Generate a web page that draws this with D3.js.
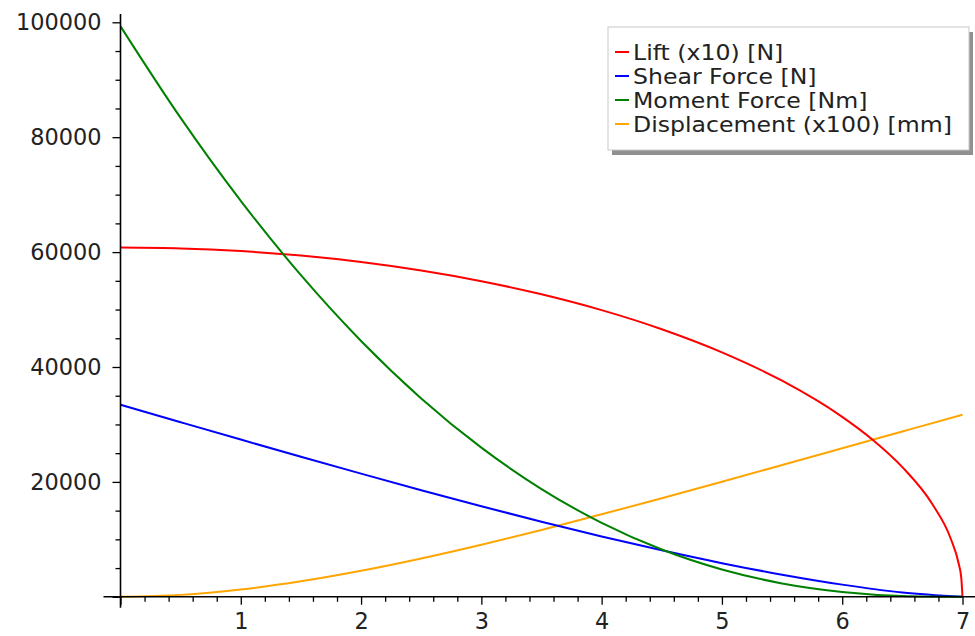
<!DOCTYPE html>
<html>
<head>
<meta charset="utf-8">
<script src="https://cdn.jsdelivr.net/npm/d3@7"></script>
<style>
  html, body { margin: 0; padding: 0; background: #fff; }
  svg { display: block; font-family: "DejaVu Sans", sans-serif; }
</style>
</head>
<body>
<svg id="chart" width="975" height="636"></svg>
<script>
// ---- data ----
const xGrid = [0, 0.5, 1, 1.5, 2, 2.5, 3, 3.5, 4, 4.5, 5, 5.5, 6, 6.5, 7];
const shearForce = [33427, 30389, 27367, 24377, 21434, 18556, 15761, 13070, 10504, 8090, 5858, 3850, 2120, 758, 0];
const momentForce = [99307, 83353, 68915, 55981, 44530, 34536, 25960, 18757, 12869, 8228, 4749, 2333, 854, 152, 0];
const displacement = [0, 335, 1268, 2693, 4520, 6666, 9059, 11639, 14353, 17161, 20028, 22929, 25848, 28773, 31700];
const liftX = [0, 0.5, 1, 1.5, 2, 2.5, 3, 3.5, 4, 4.5, 5, 5.5, 6, 6.25, 6.5, 6.75, 6.9, 6.97, 6.99, 7];
const lift = [60800, 60645, 60176, 59388, 58266, 56790, 54933, 52654, 49896, 46572, 42551, 37610, 31317, 27381, 22566, 16104, 10240, 5623, 3249, 0];

const seriesNames = ["Lift (x10) [N]", "Shear Force [N]", "Moment Force [Nm]", "Displacement (x100) [mm]"];
const seriesColors = ["#ff0000", "#0000ff", "#008000", "#ffa500"];

const xMajorTicks = [0, 1, 2, 3, 4, 5, 6, 7];
const yMajorTicks = [0, 20000, 40000, 60000, 80000, 100000];

// ---- layout ----
const svg = d3.select("#chart");
const W = 975, H = 636;
const x = d3.scaleLinear().domain([0, 7]).range([120.5, 962.5]);
const y = d3.scaleLinear().domain([0, 100000]).range([596.8, 22.3]);

const series = [
  { name: seriesNames[0], color: seriesColors[0], pts: liftX.map((v, i) => [v, lift[i]]) },
  { name: seriesNames[1], color: seriesColors[1], pts: xGrid.map((v, i) => [v, shearForce[i]]) },
  { name: seriesNames[2], color: seriesColors[2], pts: xGrid.map((v, i) => [v, momentForce[i]]) },
  { name: seriesNames[3], color: seriesColors[3], pts: xGrid.map((v, i) => [v, displacement[i]]) }
];

const line = d3.line()
  .x(d => x(d[0]))
  .y(d => y(d[1]))
  .curve(d3.curveMonotoneX);

const drawOrder = [3, 0, 1, 2];
svg.append("g").selectAll("path")
  .data(drawOrder.map(i => series[i]))
  .join("path")
  .attr("d", d => line(d.pts))
  .attr("fill", "none")
  .attr("stroke", d => d.color)
  .attr("stroke-width", 2);

// ---- axes ----
const axisColor = "#000";
const textColor = "#222";
const fontSize = 22.4;

const xMinor = d3.range(0, 7.0001, 0.2).filter(v => Math.abs(v - Math.round(v)) > 1e-6);
const gx = svg.append("g").attr("transform", `translate(0,${y(0)})`);
gx.call(d3.axisBottom(x).tickValues(xMinor).tickSize(5).tickFormat(""));
gx.call(g => g.select(".domain").remove());
const gx2 = svg.append("g").attr("transform", `translate(0,${y(0)})`);
gx2.call(d3.axisBottom(x).tickValues(xMajorTicks).tickSize(8).tickPadding(8)
  .tickFormat(d => d === 0 ? "" : d3.format("d")(d)));
gx2.call(g => g.select(".domain").remove());

const yMinor = d3.range(0, 100001, 5000).filter(v => v % 20000 !== 0);
const gy = svg.append("g").attr("transform", `translate(${x(0)},0)`);
gy.call(d3.axisLeft(y).tickValues(yMinor).tickSize(5).tickFormat(""));
gy.call(g => g.select(".domain").remove());
const gy2 = svg.append("g").attr("transform", `translate(${x(0)},0)`);
gy2.call(d3.axisLeft(y).tickValues(yMajorTicks).tickSize(8).tickPadding(11)
  .tickFormat(d => d === 0 ? "" : String(d)));
gy2.call(g => g.select(".domain").remove());
svg.selectAll("g.tick line").attr("stroke", axisColor).attr("stroke-width", 1.3);
svg.selectAll("g.tick text")
  .attr("fill", textColor)
  .style("font-size", fontSize + "px")
  .style("font-family", "DejaVu Sans");

// axis lines
svg.append("line")
  .attr("x1", x(0) - 17).attr("x2", W)
  .attr("y1", y(0)).attr("y2", y(0))
  .attr("stroke", axisColor).attr("stroke-width", 1.6);
svg.append("line")
  .attr("x1", x(0)).attr("x2", x(0))
  .attr("y1", 14).attr("y2", y(0) + 11)
  .attr("stroke", axisColor).attr("stroke-width", 1.6);

// ---- legend ----
const lg = svg.append("g");
const lx = 608, ly = 27, lw = 361, lh = 123;
lg.append("rect").attr("x", lx + 4).attr("y", ly + 5).attr("width", lw).attr("height", lh)
  .attr("fill", "#909090");
lg.append("rect").attr("x", lx).attr("y", ly).attr("width", lw).attr("height", lh)
  .attr("fill", "#fff").attr("stroke", "#c8c8c8").attr("stroke-width", 1);
series.forEach((s, i) => {
  const cy = 52 + i * 24;
  lg.append("line").attr("x1", 615).attr("x2", 629).attr("y1", cy).attr("y2", cy)
    .attr("stroke", s.color).attr("stroke-width", 2);
  const t = lg.append("text").attr("x", 633).attr("y", cy).attr("dy", "0.36em")
    .attr("fill", textColor).style("font-size", "23.6px")
    .text(s.name);
  const w = t.node().getComputedTextLength();
  t.style("font-size", "20.4px").attr("dy", "0.4em")
    .attr("textLength", w).attr("lengthAdjust", "spacingAndGlyphs");
});
</script>
</body>
</html>
